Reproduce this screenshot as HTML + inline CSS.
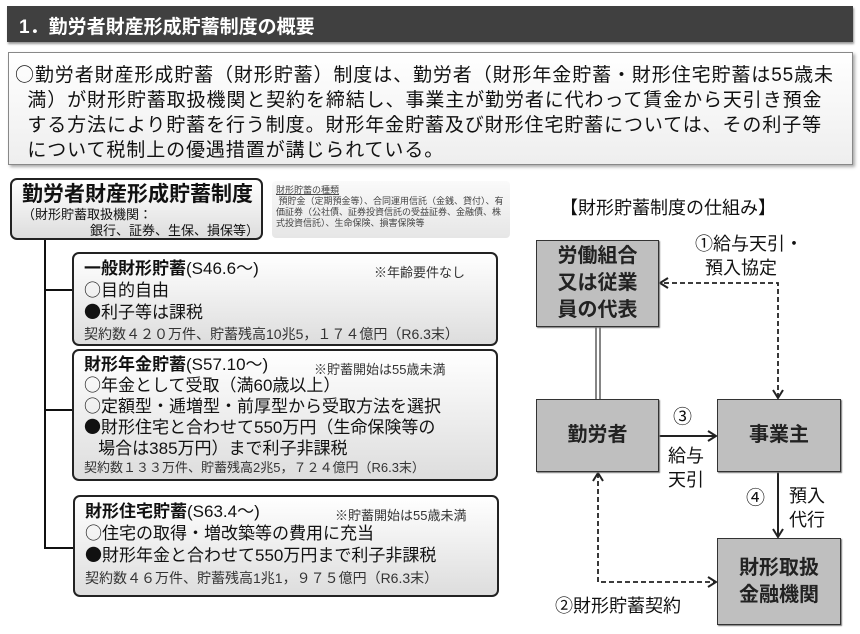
<!DOCTYPE html>
<html><head><meta charset="utf-8"><style>
*{margin:0;padding:0;box-sizing:border-box}
body{width:860px;height:634px;background:#fff;position:relative;overflow:hidden;font-family:"Liberation Sans","Noto Sans CJK JP",sans-serif;color:#111}
.a{position:absolute}
.c{font-family:"Noto Sans CJK JP",sans-serif;line-height:0}
.title{left:7px;top:6px;width:846px;height:36px;background:#404040;color:#fff;font-size:19px;font-weight:bold;padding:6px 0 0 12px;box-shadow:1px 2px 2px #999}
.intro{left:8px;top:52px;width:845px;height:113px;border:1px solid #888;background:linear-gradient(#fff,#eee);box-shadow:2px 2px 3px #aaa;font-size:19px;line-height:25px;padding:10px 0 0 6px;letter-spacing:0.9px}
.intro div{white-space:nowrap;height:25px}
.rb{border:2px solid #222;border-radius:7px;background:linear-gradient(#fff,#ddd)}
.rb .l{white-space:nowrap}
.s{font-size:13px;color:#333}
.box{position:absolute;background:#bfbfbf;border:1.5px solid #333;font-size:20px;font-weight:bold;color:#222;display:flex;align-items:center;justify-content:center;text-align:center;line-height:27px;box-shadow:1px 1px 1px #777}
</style></head><body>
<div class="a title">1．勤労者財産形成貯蓄制度の概要</div>
<div class="a intro">
<div><span class="c">○</span>勤労者財産形成貯蓄（財形貯蓄）制度は、勤労者（財形年金貯蓄・財形住宅貯蓄は55歳未</div>
<div>&nbsp;&nbsp;満）が財形貯蓄取扱機関と契約を締結し、事業主が勤労者に代わって賃金から天引き預金</div>
<div>&nbsp;&nbsp;する方法により貯蓄を行う制度。財形年金貯蓄及び財形住宅貯蓄については、その利子等</div>
<div>&nbsp;&nbsp;について税制上の優遇措置が講じられている。</div>
</div>

<div class="a rb" style="left:10px;top:178px;width:253px;height:62px;padding:2px 0 0 10px">
<div class="l" style="font-size:21px;font-weight:bold;line-height:25px">勤労者財産形成貯蓄制度</div>
<div class="l" style="font-size:13px;line-height:16px">（財形貯蓄取扱機関：</div>
<div class="l" style="font-size:13px;line-height:16px;padding-left:68px">銀行、証券、生保、損保等）</div>
</div>
<div class="a" style="left:272px;top:181px;width:238px;height:57px;background:linear-gradient(#fafafa,#e6e6e6);border-radius:4px;font-size:9px;line-height:11px;color:#444;padding:4px 4px">
<div style="text-decoration:underline">財形貯蓄の種類</div>
<div>&nbsp;預貯金（定期預金等）、合同運用信託（金銭、貸付）、有価証券（公社債、証券投資信託の受益証券、金融債、株式投資信託）、生命保険、損害保険等</div>
</div>

<svg class="a" style="left:0;top:0" width="860" height="634">
<path d="M45 240 V548 H73 M45 290 H73 M45 410 H73" fill="none" stroke="#111" stroke-width="2"/>
<defs><marker id="ar" markerWidth="12" markerHeight="12" refX="10" refY="6" orient="auto-start-reverse" markerUnits="userSpaceOnUse"><path d="M2 1 L10 6 L2 11" fill="none" stroke="#222" stroke-width="2" stroke-dasharray="none"/></marker></defs>
<line x1="596" y1="327" x2="596" y2="399" stroke="#333" stroke-width="1.2"/>
<line x1="600" y1="327" x2="600" y2="399" stroke="#333" stroke-width="1.2"/>
<path d="M778 398 V283 H660" fill="none" stroke="#222" stroke-width="1.8" stroke-dasharray="5,3" marker-start="url(#ar)" marker-end="url(#ar)"/>
<path d="M598 473 V582 H716" fill="none" stroke="#222" stroke-width="1.8" stroke-dasharray="5,3" marker-start="url(#ar)" marker-end="url(#ar)"/>
<line x1="659" y1="436" x2="716" y2="436" stroke="#222" stroke-width="2" marker-end="url(#ar)"/>
<line x1="778" y1="472" x2="778" y2="537" stroke="#222" stroke-width="2" marker-end="url(#ar)"/>
</svg>

<div class="a rb" style="left:72px;top:252px;width:426px;height:94px;padding:4px 0 0 10px">
<div class="l" style="font-size:17px;line-height:22px;height:22px"><b>一般財形貯蓄</b>(S46.6～)<span class="s" style="position:absolute;left:300px;top:8px">※年齢要件なし</span></div>
<div class="l" style="font-size:17px;line-height:22px;height:22px"><span class="c">○</span>目的自由</div>
<div class="l" style="font-size:17px;line-height:22px;height:22px"><span class="c">●</span>利子等は課税</div>
<div class="l" style="font-size:14px;line-height:20px;color:#333">契約数４２０万件、貯蓄残高10兆5，１７４億円（R6.3末）</div>
</div>
<div class="a rb" style="left:72px;top:349px;width:426px;height:132px;padding:3px 0 0 10px">
<div class="l" style="font-size:17px;line-height:21px;height:21px"><b>財形年金貯蓄</b>(S57.10～)<span class="s" style="position:absolute;left:240px;top:8px">※貯蓄開始は55歳未満</span></div>
<div class="l" style="font-size:17px;line-height:21px;height:21px"><span class="c">○</span>年金として受取（満60歳以上）</div>
<div class="l" style="font-size:17px;line-height:21px;height:21px"><span class="c">○</span>定額型・逓増型・前厚型から受取方法を選択</div>
<div class="l" style="font-size:17px;line-height:21px;height:21px"><span class="c">●</span>財形住宅と合わせて550万円（生命保険等の</div>
<div class="l" style="font-size:17px;line-height:21px;height:21px">&nbsp;&nbsp;&nbsp;場合は385万円）まで利子非課税</div>
<div class="l" style="font-size:13px;line-height:18px;color:#333">契約数１３３万件、貯蓄残高2兆5，７２４億円（R6.3末）</div>
</div>
<div class="a rb" style="left:73px;top:495px;width:426px;height:102px;padding:4px 0 0 10px">
<div class="l" style="font-size:17px;line-height:22px;height:22px"><b>財形住宅貯蓄</b>(S63.4～)<span class="s" style="position:absolute;left:260px;top:8px">※貯蓄開始は55歳未満</span></div>
<div class="l" style="font-size:17px;line-height:22px;height:22px"><span class="c">○</span>住宅の取得・増改築等の費用に充当</div>
<div class="l" style="font-size:17px;line-height:22px;height:22px"><span class="c">●</span>財形年金と合わせて550万円まで利子非課税</div>
<div class="l" style="font-size:14px;line-height:22px;color:#333">契約数４６万件、貯蓄残高1兆1，９７５億円（R6.3末）</div>
</div>

<div class="a" style="left:560px;top:194px;font-size:18px;white-space:nowrap">【財形貯蓄制度の仕組み】</div>
<div class="a" style="left:695px;top:232px;font-size:18px;line-height:24px;white-space:nowrap">①給与天引・<br>&nbsp;&nbsp;預入協定</div>
<div class="box" style="left:536px;top:240px;width:123px;height:87px">労働組合<br>又は従業<br>員の代表</div>
<div class="box" style="left:536px;top:399px;width:123px;height:73px">勤労者</div>
<div class="box" style="left:717px;top:399px;width:124px;height:73px">事業主</div>
<div class="box" style="left:717px;top:538px;width:124px;height:87px">財形取扱<br>金融機関</div>
<div class="a" style="left:673px;top:402px;font-size:19px">③</div>
<div class="a" style="left:668px;top:444px;font-size:18px;line-height:24px">給与<br>天引</div>
<div class="a" style="left:746px;top:483px;font-size:19px">④</div>
<div class="a" style="left:789px;top:484px;font-size:18px;line-height:24px">預入<br>代行</div>
<div class="a" style="left:555px;top:592px;font-size:18px;white-space:nowrap">②財形貯蓄契約</div>
</body></html>
